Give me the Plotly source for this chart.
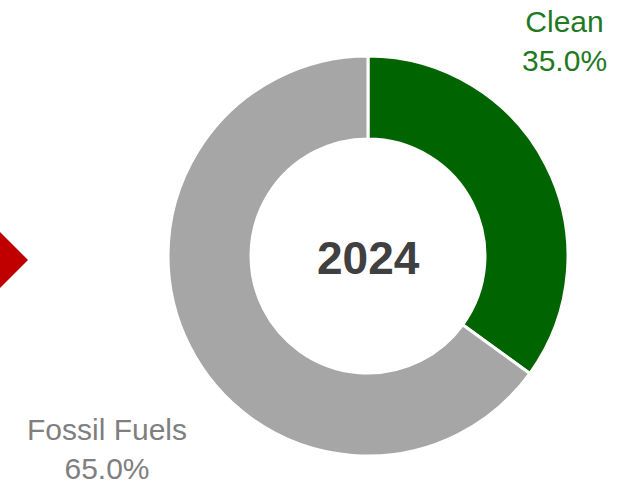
import plotly.graph_objects as go

# Energy mix shares for 2024
categories = ["Clean", "Fossil Fuels"]
shares = [35.0, 65.0]
year_label = "2024"

slice_colors = ["#006400", "#A6A6A6"]
label_colors = ["#1F7A1F", "#7F7F7F"]

W, H = 618, 485


def px_x(x):
    return x / W


def px_y(y):
    return 1 - y / H


fig = go.Figure(
    go.Pie(
        labels=categories,
        values=shares,
        hole=0.585,
        sort=False,
        direction="clockwise",
        rotation=0,
        textinfo="none",
        hoverinfo="label+percent",
        marker=dict(colors=slice_colors, line=dict(color="white", width=3)),
        domain=dict(x=[px_x(168), px_x(568)], y=[px_y(456), px_y(56)]),
        showlegend=False,
    )
)

# Slice labels
label_pos = {"Clean": (564, 41), "Fossil Fuels": (107, 449)}
for name, val, col in zip(categories, shares, label_colors):
    lx, ly = label_pos[name]
    fig.add_annotation(
        x=px_x(lx), y=px_y(ly), xref="paper", yref="paper",
        text=f"{name}<br>{val:.1f}%", showarrow=False,
        font=dict(family="Liberation Sans, Arial", size=30, color=col),
        align="center", xanchor="center", yanchor="middle",
    )

# Year in the hole
fig.add_annotation(
    x=px_x(368), y=px_y(258), xref="paper", yref="paper",
    text=f"<b>{year_label}</b>", showarrow=False,
    font=dict(family="Liberation Sans, Arial", size=46, color="#404040"),
    xanchor="center", yanchor="middle",
)

# Red pointer on the left edge
pts = [(-20, 212), (28, 260), (-20, 308), (-68, 260)]
path = "M " + " L ".join(f"{px_x(x)},{px_y(y)}" for x, y in pts) + " Z"
fig.add_shape(type="path", path=path, xref="paper", yref="paper",
              fillcolor="#C00000", line=dict(width=0))

fig.update_layout(
    width=W, height=H,
    margin=dict(l=0, r=0, t=0, b=0),
    paper_bgcolor="white", plot_bgcolor="white",
)

fig.write_html("out.html")
